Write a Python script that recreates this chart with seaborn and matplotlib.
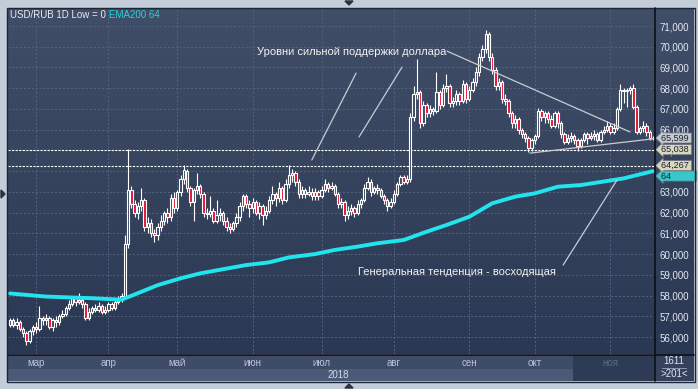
import numpy as np
import pandas as pd
import matplotlib
matplotlib.use('Agg')
import matplotlib.pyplot as plt
import matplotlib.transforms as mtransforms
from matplotlib.colors import LinearSegmentedColormap
from matplotlib.patches import Polygon, Rectangle
from matplotlib.lines import Line2D
import seaborn as sns

# дневные свечи USD/RUB, 19.02.2018 - 20.11.2018
dates = pd.bdate_range('2018-02-19', '2018-11-20')

opens = [56.6, 56.8, 56.6, 56.7, 56.4, 56.2, 55.8, 56.3, 56.5, 56.4,
         56.9, 56.8, 56.9, 56.5, 56.8, 56.7, 57.0, 57.1, 57.4, 57.6,
         57.9, 57.7, 57.8, 57.6, 56.9, 57.2, 57.4, 57.3, 57.5, 57.2,
         57.3, 57.6, 57.4, 57.7, 57.8, 58.0, 60.5, 63.1, 62.4, 62.0,
         62.3, 62.6, 61.3, 61.5, 61.0, 60.9, 61.3, 61.6, 62.0, 61.8,
         62.7, 62.2, 63.0, 63.6, 64.0, 63.2, 62.5, 63.1, 63.3, 62.9,
         62.0, 61.95, 62.1, 61.6, 61.9, 62.0, 61.6, 61.3, 61.2, 61.5,
         61.8, 62.3, 62.8, 62.4, 62.2, 62.5, 62.0, 62.3, 61.9, 62.1,
         62.6, 62.9, 62.7, 63.2, 62.6, 63.4, 63.8, 63.9, 63.5, 62.9,
         63.1, 62.9, 63.0, 62.8, 63.0, 62.8, 63.1, 63.4, 63.2, 63.3,
         62.9, 62.4, 62.5, 61.9, 62.1, 62.2, 62.0, 62.4, 62.6, 63.2,
         63.5, 63.0, 63.2, 63.1, 62.8, 62.6, 62.3, 62.5, 62.9, 63.4,
         63.7, 63.5, 63.6, 66.6, 67.7, 67.8, 66.3, 67.2, 66.8, 67.0,
         66.9, 67.8, 67.2, 68.0, 68.1, 67.3, 67.4, 67.7, 67.4, 68.2,
         67.5, 67.9, 68.3, 68.8, 69.5, 69.9, 70.6, 69.5, 68.9, 68.1,
         68.3, 67.5, 67.4, 66.8, 66.3, 66.5, 66.0, 65.8, 65.6, 65.1,
         65.5, 65.7, 66.9, 66.6, 66.8, 66.5, 66.2, 66.8, 66.3, 65.8,
         65.4, 65.6, 65.7, 65.5, 65.2, 65.5, 65.8, 65.6, 65.7, 65.8,
         65.5, 65.9, 66.0, 66.2, 65.9, 66.1, 67.0, 67.9, 67.85, 67.9,
         68.0, 67.1, 65.9, 66.1, 66.2, 65.9, 65.6]

closes = [56.8, 56.6, 56.7, 56.4, 56.2, 55.8, 56.3, 56.5, 56.4, 56.9,
          56.8, 56.9, 56.5, 56.8, 56.7, 57.0, 57.1, 57.4, 57.6, 57.9,
          57.7, 57.8, 57.6, 56.9, 57.2, 57.4, 57.3, 57.5, 57.2, 57.3,
          57.6, 57.4, 57.7, 57.8, 58.0, 60.5, 63.1, 62.4, 62.0, 62.3,
          62.6, 61.3, 61.5, 61.0, 60.9, 61.3, 61.6, 62.0, 61.8, 62.7,
          62.2, 63.0, 63.6, 64.05, 63.2, 62.5, 63.1, 63.3, 62.9, 62.0,
          61.95, 62.1, 61.6, 61.9, 62.0, 61.6, 61.3, 61.2, 61.5, 61.8,
          62.3, 62.8, 62.4, 62.2, 62.5, 62.0, 62.3, 61.9, 62.1, 62.6,
          62.9, 62.7, 63.2, 62.6, 63.4, 63.8, 63.9, 63.5, 62.9, 63.1,
          62.9, 63.0, 62.8, 63.0, 62.8, 63.1, 63.4, 63.2, 63.3, 62.9,
          62.4, 62.5, 61.9, 62.1, 62.2, 62.0, 62.4, 62.6, 63.2, 63.5,
          63.0, 63.2, 63.1, 62.8, 62.6, 62.3, 62.5, 62.9, 63.4, 63.7,
          63.5, 63.6, 66.6, 67.7, 67.8, 66.3, 67.2, 66.8, 67.0, 66.9,
          67.8, 67.2, 68.0, 68.1, 67.3, 67.4, 67.7, 67.4, 68.2, 67.5,
          67.9, 68.3, 68.8, 69.5, 69.9, 70.6, 69.5, 68.9, 68.1, 68.3,
          67.5, 67.4, 66.8, 66.3, 66.5, 66.0, 65.8, 65.6, 65.1, 65.5,
          65.7, 66.9, 66.6, 66.8, 66.5, 66.2, 66.8, 66.3, 65.8, 65.4,
          65.6, 65.7, 65.5, 65.2, 65.5, 65.8, 65.6, 65.7, 65.8, 65.5,
          65.9, 66.0, 66.2, 65.9, 66.1, 67.0, 67.9, 67.85, 67.9, 68.0,
          67.1, 65.9, 66.1, 66.2, 65.9, 65.6, 65.599]

highs = [56.9, 56.9, 56.9, 56.8, 56.5, 56.3, 56.4, 56.6, 56.7, 57.5,
         57.0, 57.1, 57.0, 56.9, 57.0, 57.1, 57.3, 57.5, 57.8, 58.0,
         58.0, 58.1, 57.9, 57.7, 57.4, 57.5, 57.6, 57.7, 57.6, 57.5,
         57.7, 57.7, 57.8, 58.0, 58.1, 60.9, 65.05, 63.3, 62.6, 62.5,
         63.2, 62.7, 61.8, 61.7, 61.2, 61.5, 61.9, 62.1, 62.2, 62.9,
         63.0, 63.1, 63.8, 64.3, 64.1, 63.3, 63.2, 63.9, 63.4, 63.0,
         62.2, 62.8, 62.2, 62.6, 62.2, 62.1, 61.8, 61.5, 61.6, 62.0,
         62.5, 62.9, 62.9, 62.6, 62.7, 62.6, 62.5, 62.4, 62.3, 62.8,
         63.3, 63.0, 63.5, 63.3, 63.6, 64.3, 64.1, 64.0, 63.6, 63.3,
         63.2, 63.3, 63.2, 63.2, 63.1, 63.3, 63.6, 63.5, 63.5, 63.4,
         63.0, 62.7, 62.6, 62.3, 62.4, 62.3, 62.6, 62.7, 63.4, 63.7,
         63.6, 63.3, 63.4, 63.2, 62.9, 62.7, 62.7, 63.1, 63.5, 63.8,
         63.8, 63.8, 66.8, 68.1, 69.4, 67.9, 67.4, 67.3, 67.2, 67.1,
         68.8, 67.9, 68.2, 68.7, 68.2, 67.6, 67.9, 67.8, 68.4, 68.3,
         68.1, 68.5, 69.0, 69.7, 70.1, 70.8, 70.7, 69.7, 69.0, 68.5,
         68.4, 67.7, 67.5, 66.9, 66.7, 66.6, 66.1, 65.9, 65.7, 65.6,
         65.8, 67.05, 67.0, 66.9, 66.9, 66.7, 66.9, 66.9, 66.4, 65.9,
         65.8, 65.9, 65.8, 65.6, 65.6, 65.9, 65.9, 65.9, 66.0, 65.9,
         66.0, 66.2, 66.4, 66.3, 66.3, 67.1, 68.2, 68.0, 68.0, 68.1,
         68.2, 67.2, 66.2, 66.4, 66.3, 66.0, 65.7]

lows = [56.5, 56.5, 56.4, 56.3, 56.0, 55.6, 55.7, 56.1, 56.2, 56.3,
        56.6, 56.6, 56.4, 56.3, 56.5, 56.6, 56.9, 57.0, 57.3, 57.5,
        57.5, 57.6, 57.4, 56.8, 56.8, 57.1, 57.2, 57.2, 57.1, 57.1,
        57.2, 57.3, 57.3, 57.6, 57.7, 57.9, 60.3, 62.2, 61.8, 61.7,
        62.1, 61.1, 61.0, 60.8, 60.6, 60.7, 61.1, 61.4, 61.5, 61.6,
        62.0, 62.1, 62.8, 63.4, 63.0, 62.3, 61.6, 62.9, 62.7, 61.8,
        61.7, 61.8, 61.5, 61.5, 61.6, 61.4, 61.1, 61.0, 61.1, 61.3,
        61.6, 62.1, 62.2, 61.8, 62.0, 61.9, 61.7, 61.4, 61.7, 62.0,
        62.4, 62.3, 62.5, 62.4, 62.5, 63.2, 63.5, 63.3, 62.7, 62.7,
        62.7, 62.8, 62.6, 62.6, 62.6, 62.7, 63.0, 63.0, 63.1, 62.8,
        62.2, 62.2, 61.6, 61.7, 61.9, 61.8, 61.9, 62.2, 62.5, 63.1,
        62.8, 62.9, 62.9, 62.7, 62.4, 62.1, 62.2, 62.4, 62.8, 63.3,
        63.4, 63.4, 63.5, 66.4, 67.5, 66.1, 66.2, 66.6, 66.6, 66.7,
        66.8, 67.0, 67.1, 67.8, 67.1, 67.1, 67.2, 67.2, 67.3, 67.3,
        67.4, 67.8, 68.1, 68.6, 69.3, 69.7, 69.3, 68.7, 67.9, 67.9,
        67.3, 67.2, 66.6, 66.1, 66.1, 65.8, 65.6, 65.4, 64.9, 64.95,
        65.3, 65.6, 66.4, 66.3, 66.3, 66.1, 66.1, 66.1, 65.6, 65.3,
        65.3, 65.4, 65.3, 64.95, 65.1, 65.4, 65.3, 65.5, 65.5, 65.4,
        65.4, 65.8, 65.9, 65.8, 65.8, 66.0, 66.9, 67.3, 67.1, 67.7,
        67.0, 65.8, 65.8, 65.9, 65.7, 65.5, 65.5]

ema_idx = [0, 11, 25, 34, 38, 45, 52, 58, 66, 72, 79, 85, 93, 99, 106,
           112, 120, 127, 133, 140, 147, 154, 160, 167, 174, 181, 187, 196]
ema_vals = [58.1, 57.95, 57.87, 57.8, 58.05, 58.5, 58.83, 59.07, 59.3, 59.47,
            59.6, 59.84, 60.0, 60.2, 60.36, 60.52, 60.68, 61.08, 61.4, 61.8,
            62.45, 62.77, 62.93, 63.25, 63.33, 63.5, 63.65, 64.0]

support_levels = [65.038, 64.267]
month_names = ['мар', 'апр', 'май', 'июн', 'июл', 'авг', 'сен', 'окт', 'ноя']
price_ticks = list(range(56, 72))

sns.set_style('dark')
plt.rcParams['font.family'] = ['Liberation Sans', 'DejaVu Sans']

W, H = 698, 389


def fr(x0, y0, x1, y1):
    # пиксельный прямоугольник -> доли фигуры
    return [x0 / W, 1 - y1 / H, (x1 - x0) / W, (y1 - y0) / H]


def px(x, y):
    return (x / W, 1 - y / H)


fig = plt.figure(figsize=(W / 100, H / 100), dpi=100, facecolor='#c3cdda')

# фон с градиентом
bg = fig.add_axes(fr(8, 8, 694, 354))
bg.axis('off')
cmap = LinearSegmentedColormap.from_list('bg', ['#2b3853', '#414e68'])
bg.imshow(np.linspace(0, 1, 256)[:, None], aspect='auto', cmap=cmap,
          origin='lower', extent=[0, 1, 0, 1])

ax = fig.add_axes(fr(8, 8, 655, 354))
ax.set_facecolor('none')
for s in ax.spines.values():
    s.set_visible(False)

x = np.arange(len(closes))
o = np.array(opens)
c = np.array(closes)
up = c >= o
body_w = 0.72

ax.vlines(x, lows, highs, color='white', lw=0.8, zorder=2)
ax.bar(x[up], (c - o)[up], bottom=o[up], width=body_w, color='#36445e',
       edgecolor='white', lw=0.8, zorder=3)
ax.bar(x[~up], (o - c)[~up], bottom=c[~up], width=body_w, color='#e3102f',
       edgecolor='white', lw=0.8, zorder=3)

sns.lineplot(x=ema_idx, y=ema_vals, ax=ax, color='#22e4ee', lw=2.8, zorder=4)

for lvl in support_levels:
    ax.axhline(lvl, color='white', lw=0.8, ls=(0, (2, 1.2)), zorder=1)

# линии-пояснения и тренды
line_col = '#c9ccd2'
ax.plot([105.5, 92.0], [68.73, 64.54], color=line_col, lw=0.9, zorder=5)
ax.plot([119.5, 106.4], [69.02, 65.65], color=line_col, lw=0.9, zorder=5)
ax.plot([133.2, 189.0], [69.79, 65.89], color=line_col, lw=0.9, zorder=5)
ax.plot([158.5, 196.6], [64.87, 65.57], color=line_col, lw=0.9, zorder=5)
ax.plot([168.6, 185.0], [59.47, 63.57], color=line_col, lw=0.9, zorder=5)

ax.text(104.3, 69.75, 'Уровни сильной поддержки доллара', color='#f2f2f2',
        fontsize=8, ha='center', va='center', zorder=6)
ax.text(136.3, 59.13, 'Генеральная тенденция - восходящая', color='#f2f2f2',
        fontsize=8, ha='center', va='center', zorder=6)

month_pos = [int(np.argmax(dates.month == m)) for m in range(3, 12)]

ax.set_xlim(-0.6, 196.6)
ax.set_ylim(55.18, 71.87)
ax.set_xticks(month_pos)
ax.set_yticks(price_ticks)
ax.yaxis.tick_right()
ax.set_yticklabels([f'{v},000' for v in price_ticks])
ax.tick_params(axis='y', length=0, pad=3, labelcolor='#e4e9f2', labelsize=7)
ax.tick_params(axis='x', length=0, labelbottom=False)
ax.grid(True, color='#56637e', ls=(0, (2, 2)), lw=0.7)
ax.set_axisbelow(True)

# ценовые метки справа (нижняя рисуется первой и чуть смещена вниз)
blend = mtransforms.blended_transform_factory(ax.transAxes, ax.transData)
tags = [('64          ', 64.0, '#38c7cb', -3.5), ('64,267 ', 64.267, '#d8d6bd', 0),
        ('65,038 ', 65.038, '#d8d6bd', 0), ('65,599 ', 65.599, '#c5c9d0', 0)]
for k, (txt, val, col, dy) in enumerate(tags):
    ax.annotate(txt, xy=(1.009, val), xycoords=blend, xytext=(0, dy),
                textcoords='offset points', fontsize=6.5, color='#1c2230',
                ha='left', va='center', zorder=7 + k, annotation_clip=False,
                bbox=dict(boxstyle='larrow,pad=0.06', fc=col, ec='#6c7280', lw=0.5))

# нижняя шкала
axb = fig.add_axes(fr(8, 355, 655, 381))
axb.set_xlim(-0.6, 196.6)
axb.set_ylim(0, 1)
axb.set_facecolor('#3e4c67')
axb.axhspan(0, 0.48, color='#4b5a77', lw=0)
axb.axvspan(171.6, 196.6, color='#2e3b55', lw=0)
axb.set_xticks([])
axb.set_yticks([])
for s in axb.spines.values():
    s.set_visible(False)
for pos, name in zip(month_pos, month_names):
    col = '#5b6a86' if name == 'ноя' else '#b8c5da'
    axb.text(pos, 0.7, name, color=col, fontsize=7, ha='center', va='center')
axb.text(103.5, 0.24, '2018', color='#d3dae6', fontsize=7, ha='right', va='center')

# правый нижний блок
fig.add_artist(Rectangle(px(655, 381), 39 / W, 27 / H, transform=fig.transFigure,
                         fc='#34425c', ec='none'))
fig.text(*px(674, 361), '1611', color='#e0e6ef', fontsize=7, ha='center', va='center')
fig.add_artist(Line2D([662 / W, 686 / W], [1 - 367.5 / H] * 2, color='#9aa6ba', lw=0.6))
fig.text(*px(674, 374), '>201<', color='#e0e6ef', fontsize=7, ha='center', va='center')

# рамки
fig.add_artist(Line2D([655 / W, 655 / W], [1 - 8 / H, 1 - 381 / H], color='#0b0f18', lw=1.2))
fig.add_artist(Line2D([8 / W, 694 / W], [1 - 354.5 / H] * 2, color='#0b0f18', lw=1.2))
fig.add_artist(Rectangle(px(7.5, 381.5), 687 / W, 374 / H, transform=fig.transFigure,
                         fc='none', ec='#1e2636', lw=1))

# заголовок
fig.text(*px(10, 15), 'USD/RUB 1D Low = 0', color='#e8ecf3', fontsize=7, va='center')
fig.text(*px(109, 15), 'EMA200 64', color='#27d3dd', fontsize=7, va='center')

# маленькие треугольники на рамке
tri_col = '#2a303c'
fig.add_artist(Polygon([px(345, 1), px(353, 1), px(349, 5)], closed=True,
                       transform=fig.transFigure, color=tri_col))
fig.add_artist(Polygon([px(345, 388), px(353, 388), px(349, 384)], closed=True,
                       transform=fig.transFigure, color=tri_col))
fig.add_artist(Polygon([px(1, 190), px(1, 198), px(5, 194)], closed=True,
                       transform=fig.transFigure, color=tri_col))

fig.savefig('out.png', dpi=100, facecolor=fig.get_facecolor())
